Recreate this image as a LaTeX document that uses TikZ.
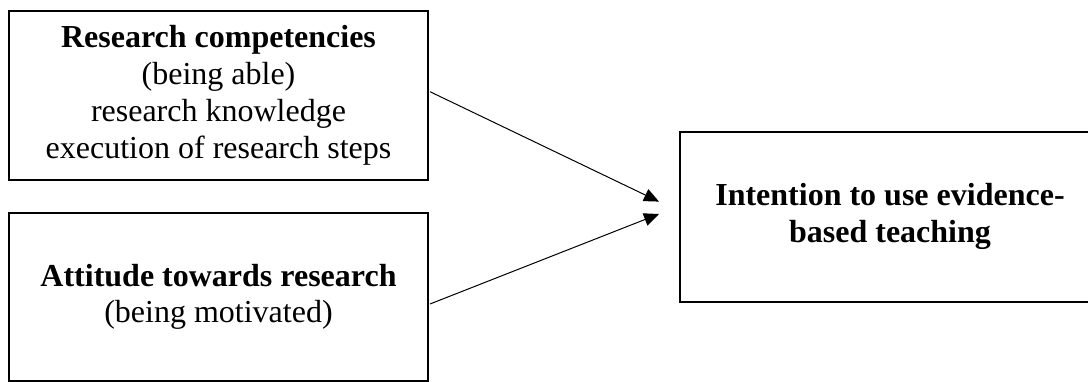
\documentclass[tikz,border=0pt]{standalone}
\usepackage{fontspec}
\setmainfont{Liberation Serif}
\usetikzlibrary{arrows.meta,calc}
\tikzset{
  box/.style={draw=black, line width=2pt, inner sep=0pt, align=center,
    font=\fontsize{32}{36.7}\selectfont},
  link/.style={line width=1pt, -{Triangle[length=15pt,width=13pt]}}
}
\begin{document}
\begin{tikzpicture}[x=1pt,y=-1pt]
\useasboundingbox (0,0) rectangle (1088,382);
\clip (0,0) rectangle (1088,382);
\fill[white] (0,0) rectangle (1088,382);
\node[box, minimum width=419pt, minimum height=169pt] (b1) at (218.5,95.3)
  {\textbf{Research competencies}\\(being able)\\research knowledge\\execution of research steps};
\node[box, minimum width=419pt, minimum height=168pt] (b2) at (218.5,297)
  {\textbf{Attitude towards research}\\(being motivated)};
\node[box, minimum width=420pt, minimum height=170pt] (b3) at (890,216.6)
  {\textbf{Intention to use evidence-}\\\textbf{based teaching}};
\coordinate (t1) at ($(b3.west)+(-20,-15)$);
\coordinate (t2) at ($(b3.west)+(-20,-2.6)$);
\draw[link] ($(b1.east)+(1,-3.6)$) -- (t1);
\draw[link] ($(b2.east)+(1,7)$) -- (t2);
\end{tikzpicture}
\end{document}
